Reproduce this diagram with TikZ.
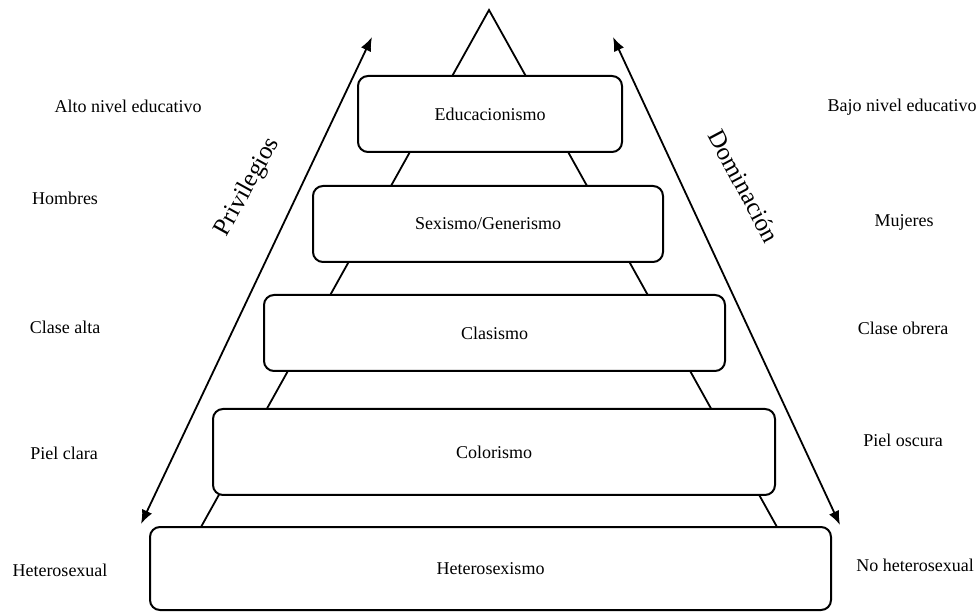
\documentclass[tikz,border=0pt]{standalone}
\usepackage{fontspec}
\setmainfont{Liberation Serif}
\usetikzlibrary{arrows.meta}
\tikzset{
	nivel/.style={draw, line width=1pt, rounded corners=5pt, fill=white, inner sep=0pt, font=\fontsize{9}{11}\selectfont},
	grupo/.style={font=\fontsize{9}{11}\selectfont},
	eje/.style={font=\fontsize{12.5}{14}\selectfont},
	flecha/.style={line width=0.9pt, {Latex[length=7pt,width=5.5pt]}-{Latex[length=7pt,width=5.5pt]}}
}

\begin{document}
\begin{tikzpicture}[x=0.5pt, y=-0.5pt, line width=0.9pt]
		\useasboundingbox (0,0) rectangle (978,613);
		% piramide
		\coordinate (cima) at (489,10);
		\coordinate (baseizq) at (201,527);
		\coordinate (baseder) at (777,527);
		\draw (baseizq) -- (cima) -- (baseder);
		\node[nivel, minimum width=132pt, minimum height=38pt] (educ) at (490,114) {Educacionismo};
		\node[nivel, minimum width=175pt, minimum height=38pt] (sexo) at (488,224) {Sexismo/Generismo};
		\node[nivel, minimum width=230.5pt, minimum height=38pt] (clase) at (494.5,333) {Clasismo};
		\node[nivel, minimum width=281pt, minimum height=43pt] (color) at (494,452) {Colorismo};
		\node[nivel, minimum width=340.5pt, minimum height=41.5pt] (hetero) at (490.5,568.5) {Heterosexismo};
		% flechas
		\coordinate (privabajo) at (141,524);
		\coordinate (privarriba) at (372,37);
		\coordinate (domarriba) at (613,37);
		\coordinate (domabajo) at (840,525);
		\draw[flecha] (privabajo) -- (privarriba);
		\draw[flecha] (domarriba) -- (domabajo);
		\node[eje, rotate=61] (priv) at (248,187) {Privilegios};
		\node[eje, rotate=-62] (dom) at (744,186) {Dominación};
		% grupos
		\node[grupo] (alto) at (128,106) {Alto nivel educativo};
		\node[grupo] (hombres) at (65,198) {Hombres};
		\node[grupo] (calta) at (65,327) {Clase alta};
		\node[grupo] (pclara) at (64,453) {Piel clara};
		\node[grupo] (hsex) at (60,570) {Heterosexual};
		\node[grupo] (bajo) at (902,107) {Bajo nivel educativo};
		\node[grupo] (mujeres) at (904,222) {Mujeres};
		\node[grupo] (cobrera) at (903,328) {Clase obrera};
		\node[grupo] (poscura) at (903,440) {Piel oscura};
		\node[grupo] (nohsex) at (915,565) {No heterosexual};
	\end{tikzpicture}
\end{document}
